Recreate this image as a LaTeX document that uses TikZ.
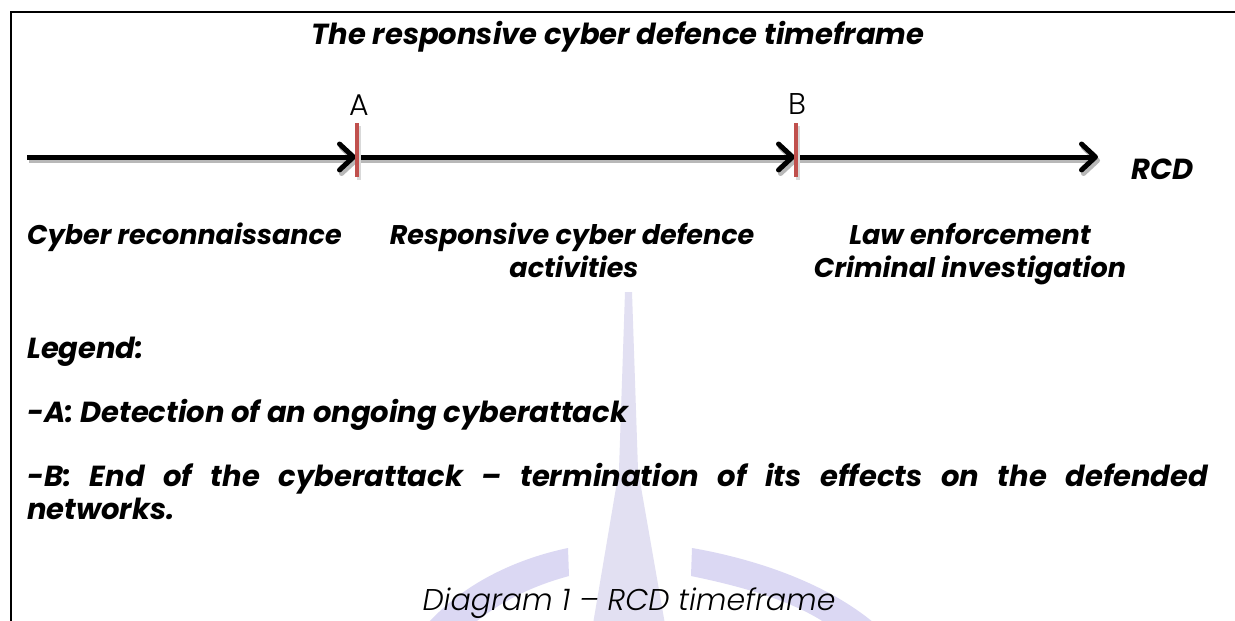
\documentclass[tikz,border=0pt]{standalone}
\usepackage{fontspec}
\setmainfont{Poppins}
\IfFontExistsTF{Poppins Light}{\newfontfamily\lightfont{Poppins Light}}{\newfontfamily\lightfont{Poppins}}
\usetikzlibrary{arrows.meta}
\definecolor{tickred}{HTML}{C0504D}
\definecolor{wmband}{RGB}{219,216,243}
\definecolor{wmspike}{RGB}{226,224,242}
\tikzset{
  phasetext/.style={font=\fontsize{27}{32}\selectfont\bfseries\itshape, inner sep=0pt},
  legendtext/.style={font=\fontsize{29}{34}\selectfont\bfseries\itshape, inner sep=0pt},
  titletext/.style={font=\fontsize{29}{34}\selectfont\bfseries\itshape, inner sep=0pt},
  marklabel/.style={font=\fontsize{30}{34}\selectfont\lightfont, inner sep=0pt},
  captiontext/.style={font=\fontsize{30}{35}\selectfont\lightfont\itshape, inner sep=0pt},
  timeline/.style={line width=5pt, -{Straight Barb[length=14pt,width=26pt,round]},
    preaction={draw=black!28, line width=5pt, transform canvas={shift={(2,3.5)}}}},
  tickmark/.style={fill=tickred, draw=none, minimum width=4.5pt, minimum height=54pt, inner sep=0pt,
    preaction={fill=black!15, transform canvas={shift={(2,3)}}}},
  frame/.style={line width=2.2pt, draw=black}
}
\begin{document}
\begin{tikzpicture}[x=1pt,y=-1pt]
\useasboundingbox (0,0) rectangle (1235,621);
\fill[white] (0,0) rectangle (1235,621);
\begin{scope}
\clip (0,0) rectangle (1235,621);
% faint logo in the background
\fill[wmspike] (625,292) -- (632,292) -- (638,470) -- (666,630) -- (592,630) -- (619,470) -- cycle;
\fill[wmband] (568,548) .. controls (520,558) and (462,582) .. (422,630)
  -- (466,630) .. controls (498,602) and (532,586) .. (569,576) -- cycle;
\fill[wmband] (692,548) .. controls (750,558) and (830,582) .. (882,630)
  -- (835,630) .. controls (800,602) and (740,586) .. (691,576) -- cycle;
% frame
\draw[frame] (11,640) -- (11,12) -- (1245,12);
\end{scope}

\node[titletext, anchor=base] (title) at (618,44) {The responsive cyber defence timeframe};

% time axis
\coordinate (start) at (27,157);
\coordinate (pA) at (356,157);
\coordinate (pB) at (795,157);
\coordinate (end) at (1098,157);
\draw[timeline] (start) -- (pA);
\draw[timeline] (pA) -- (pB);
\draw[timeline] (pB) -- (end);
\node[tickmark] (tA) at (357,150) {};
\node[tickmark] (tB) at (796,150) {};
\node[marklabel, anchor=base] (lA) at (359,115) {A};
\node[marklabel, anchor=base] (lB) at (797,114) {B};
\node[titletext, anchor=base] (rcd) at (1163,179) {RCD};

% phases
\node[phasetext, anchor=base west] (recon) at (27,244) {Cyber reconnaissance};
\node[phasetext, anchor=base] (resp1) at (572,244) {Responsive cyber defence};
\node[phasetext, anchor=base] (resp2) at (574,277) {activities};
\node[phasetext, anchor=base] (law1) at (970,244) {Law enforcement};
\node[phasetext, anchor=base] (law2) at (970,277) {Criminal investigation};

% legend
\node[legendtext, anchor=base west] (legend) at (27,358) {Legend:};
\node[legendtext, anchor=base west] (itemA) at (27,422) {-A: Detection of an ongoing cyberattack};
\node[legendtext, anchor=base west] (itemB) at (27,486)
  {\spaceskip=0.3em plus 1fil\hbox to 1181pt{-B: End of the cyberattack – termination of its effects on the defended}};
\node[legendtext, anchor=base west] (itemB2) at (27,519) {networks.};

\node[captiontext, anchor=base] (caption) at (629,610) {Diagram 1 – RCD timeframe};
\end{tikzpicture}
\end{document}
